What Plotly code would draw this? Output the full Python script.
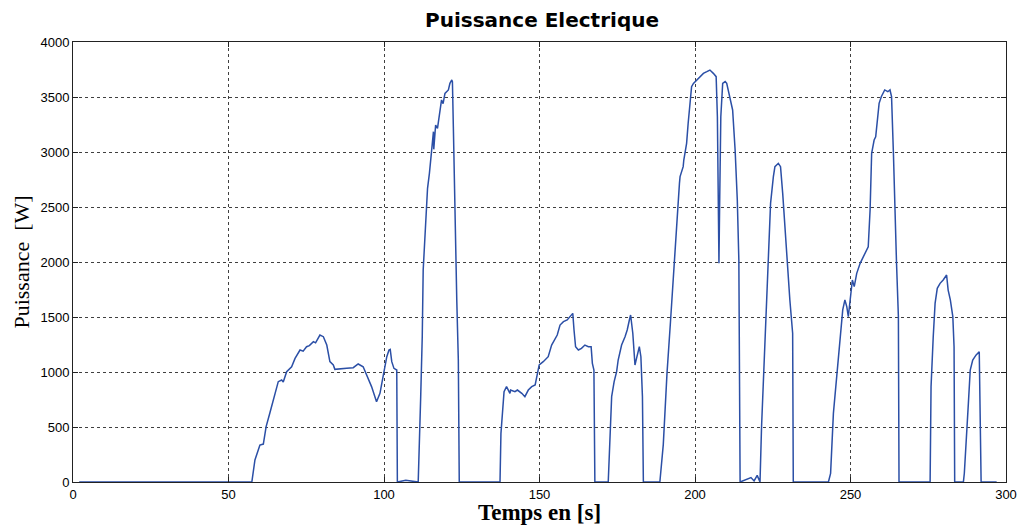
import plotly.graph_objects as go

# Time [s] and electrical power [W]
time_s = [
    2, 57.5, 58.5, 60.1, 61.2, 62.1, 63.3, 64.4, 66.0, 67.1, 67.6, 68.7, 70.3, 71.4, 73.0, 74.0,
    75.1, 76.0, 77.3, 78.0, 79.4, 80.5, 81.6, 82.6, 83.7, 84.2, 85.8, 88.0, 90.1, 91.7, 93.3,
    94.4, 96.0, 97.6, 98.7, 99.8, 100.9, 101.6, 102.0, 102.5, 103.2, 104.1, 104.3,
    107.0, 111.0, 111.8, 112.3, 112.6, 113.0, 113.3, 113.9, 114.0, 114.6, 115.0, 115.5, 115.9,
    116.0, 116.3, 116.6, 117.2, 117.8, 118.5, 119.0, 119.6, 120.7, 121.2, 121.8, 122.0, 122.3,
    122.8, 123.4, 123.9, 124.2,
    137.3, 137.6, 138.6, 139.4, 140.5, 140.7, 142.1, 142.9, 144.3, 145.3, 146.4, 147.5, 148.6,
    149.1, 149.9, 151.2, 152.8, 153.9, 155.0, 155.7, 156.6, 157.7, 158.9, 159.8, 160.7, 161.1,
    161.6, 162.5, 163.5, 164.6, 165.7, 166.6, 167.0, 167.5, 167.8,
    172.1, 172.7, 173.2, 174.0, 174.8, 175.3, 176.4, 177.5, 178.2, 178.9, 179.3, 180.0, 180.4,
    180.7, 181.2, 182.1, 182.6, 183.1, 183.4,
    188.7, 189.8, 191.0, 192.1, 193.0, 193.9, 194.6, 195.0, 195.2, 196.2, 196.4, 197.3, 197.8,
    198.4, 198.9, 199.5, 200.5, 201.6, 202.7, 203.8, 204.8, 205.9, 206.8, 207.2, 207.5, 207.7,
    207.9, 208.3, 208.9, 209.7, 210.2, 210.7, 211.3, 212.1, 212.9, 213.6, 214.1, 214.3, 214.5,
    218.0, 219.0, 220.0, 220.9, 221.4, 222.2, 222.8, 223.6, 224.3, 225.2, 225.7, 226.8, 227.5,
    228.2, 228.9, 229.3, 230.5, 231.4, 231.6,
    242.9, 243.6, 244.5, 245.3, 246.4, 247.2, 247.5, 248.2, 248.8, 249.3, 249.8, 250.6, 251.2,
    252.0, 253.1, 254.7, 255.7, 256.3, 256.8, 257.6, 258.1, 259.2, 259.9, 261.0, 262.0, 262.7,
    263.2, 263.8, 264.3, 264.8, 265.4, 265.6,
    275.6, 275.9, 276.6, 277.2, 277.9, 278.8, 279.8, 280.9, 281.4, 282.1, 282.9, 283.3, 283.5,
    286.3, 286.6, 287.4, 287.9, 288.5, 289.3, 290.4, 291.4, 292.0, 297.0,
]
power_w = [
    0, 0, 200, 336, 345, 503, 627, 745, 912, 927, 910, 1003, 1048, 1124, 1200, 1190,
    1230, 1240, 1276, 1265, 1336, 1321, 1245, 1094, 1064, 1024, 1030, 1035, 1039, 1073, 1048,
    973, 867, 730, 806, 973, 1139, 1200, 1206, 1094, 1033, 1018, 0,
    15, 0, 776, 1321, 1927, 2139, 2382, 2624, 2670, 2806, 2927, 3048, 3185,
    3024, 3200, 3245, 3215, 3321, 3473, 3440, 3533, 3564, 3624, 3655, 3640, 3230,
    2442, 1655, 1109, 0,
    0, 442, 821, 867, 806, 836, 821, 836, 806, 776, 836, 867, 882,
    958, 1064, 1094, 1139, 1245, 1306, 1336, 1427, 1458, 1473, 1503, 1533, 1382,
    1230, 1200, 1215, 1245, 1230, 1230, 1079, 1018, 0,
    0, 382, 776, 912, 1003, 1109, 1245, 1321, 1382, 1473, 1518, 1352, 1200,
    1064, 1124, 1230, 1139, 776, 0,
    0, 340, 990, 1450, 1867, 2230, 2624, 2715, 2776, 2867, 2927, 3079, 3261,
    3442, 3594, 3624, 3655, 3685, 3715, 3730, 3745, 3715, 3685, 3321, 2564, 1988,
    2473, 3321, 3624, 3640, 3624, 3564, 3473, 3382, 3018, 2564, 2018, 1321, 0,
    40, 10, 60, 0, 503, 1109, 1564, 2048, 2533, 2776, 2867, 2897, 2867,
    2624, 2321, 2230, 1655, 1352, 0,
    0, 79, 624, 867, 1230, 1412, 1564, 1655, 1594, 1503, 1624, 1836, 1776,
    1897, 1988, 2079, 2139, 2473, 2988, 3109, 3139, 3442, 3503, 3564, 3548, 3564,
    3503, 2988, 2382, 1988, 1503, 0,
    0, 867, 1321, 1624, 1761, 1806, 1836, 1882, 1745, 1655, 1503, 1230, 0,
    0, 79, 412, 715, 1018, 1109, 1155, 1185, 0, 0,
]

x_ticks = [0, 50, 100, 150, 200, 250, 300]
y_ticks = [0, 500, 1000, 1500, 2000, 2500, 3000, 3500, 4000]

fig = go.Figure()
fig.add_trace(go.Scatter(
    x=time_s, y=power_w, mode="lines",
    line=dict(color="#2b4fa6", width=1.5),
    showlegend=False,
))

axis_common = dict(
    showline=True, linecolor="#222", linewidth=1, mirror="ticks",
    ticks="inside", ticklen=5, tickcolor="#222",
    showgrid=True, gridcolor="rgba(0,0,0,0.75)", gridwidth=1, griddash="dot",
    zeroline=False, automargin=False,
    tickfont=dict(family="Liberation Sans, Arial", size=13, color="black"),
)

fig.update_layout(
    width=1020, height=525,
    paper_bgcolor="white", plot_bgcolor="white",
    margin=dict(l=73, r=14, t=42, b=43, autoexpand=False),
    title=dict(
        text="<b>Puissance Electrique</b>",
        font=dict(family="DejaVu Sans, Verdana", size=20, color="black"),
        x=542 / 1020, xanchor="center", xref="container",
        y=1 - 20 / 525, yanchor="middle", yref="container",
    ),
    xaxis=dict(
        range=[0, 300], tickvals=x_ticks,
        title=dict(text="<b>Temps en [s]</b>",
                   font=dict(family="Liberation Serif, Times New Roman", size=23, color="black"),
                   standoff=0),
        **axis_common,
    ),
    yaxis=dict(
        range=[0, 4000], tickvals=y_ticks,
        title=dict(text="Puissance  [W]",
                   font=dict(family="Liberation Serif, Times New Roman", size=22, color="black"),
                   standoff=4),
        **axis_common,
    ),
)

fig.write_html(
    "out.html",
    config={"displayModeBar": False},
    post_script="document.body.style.margin='0';document.body.style.overflow='hidden';",
)
